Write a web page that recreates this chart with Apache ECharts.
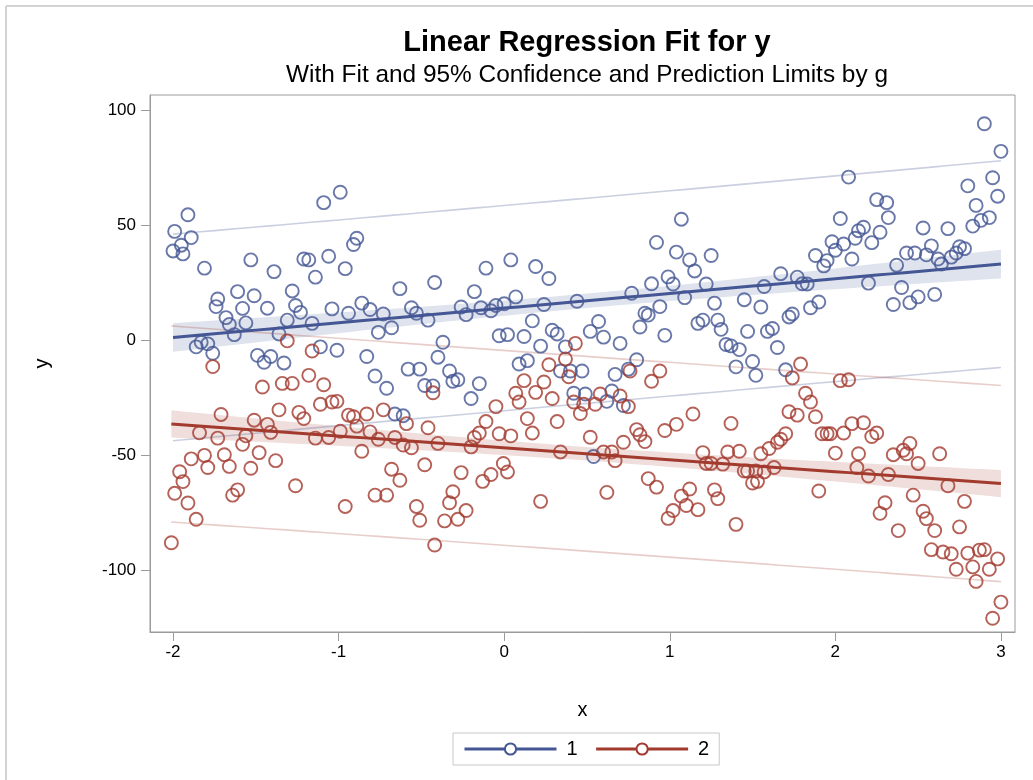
<!DOCTYPE html>
<html>
<head>
<meta charset="utf-8">
<script src="https://cdn.jsdelivr.net/npm/echarts@6/dist/echarts.min.js"></script>
<style>html,body{margin:0;padding:0;background:#fff}#c{width:1033px;height:780px}</style>
</head>
<body>
<div id="c"></div>
<script>
// ---- data ----
const xTicks = [-2, -1, 0, 1, 2, 3];
const yTicks = [-100, -50, 0, 50, 100];
const groupNames = ['1', '2'];
const group1 = [
[-1.91,54.4],[-1.99,47.2],[-1.89,44.5],[-1.95,41.2],[-2.0,38.7],[-1.94,37.4],[-1.81,31.2],[-1.53,34.8],[-1.39,29.7],[-1.61,21],[-1.73,17.8],[-1.74,14.5],[-1.51,19.2],[-1.58,13.7],[-1.43,13.8],[-1.28,21.3],[-1.26,15],[-1.68,9.7],[-1.66,6.7],[-1.56,7.4],[-1.63,2.3],[-1.31,8.6],[-1.36,2.6],[-1.86,-3],[-1.83,-1],[-1.79,-1.7],[-1.76,-5.8],[-1.49,-6.7],[-1.45,-9.7],[-1.41,-7.2],[-1.33,-10],
[-0.99,64.2],[-1.09,59.7],[-0.89,44.2],[-0.91,41.5],[-1.21,35.2],[-1.18,34.8],[-1.06,36.4],[-0.96,31],[-1.14,27.3],[-0.63,22.3],[-0.42,25],[-1.23,12],[-1.04,13.5],[-0.94,11.6],[-0.86,16],[-0.81,13.2],[-0.73,11.3],[-0.56,14],[-0.53,11.6],[-0.46,8.6],[-1.16,7.2],[-0.76,3.3],[-0.68,5.3],[-1.11,-3],[-1.01,-4.5],[-0.83,-7.2],[-0.4,-7.5],[-0.78,-15.7],[-0.71,-21],[-0.58,-12.7],[-0.51,-12.7],[-0.48,-19.8],[-0.43,-20],[-0.66,-32.2],[-0.61,-33],[-0.37,-1],
[0.04,34.8],[-0.11,31.2],[0.19,31.9],[0.27,26.7],[-0.18,21],[-0.26,14.3],[-0.23,11],[-0.14,14],[-0.08,12.7],[-0.05,15],[0.0,15.7],[0.07,18.7],[0.24,15.4],[0.44,16.8],[-0.03,1.8],[0.02,2.3],[0.12,1.5],[0.17,8.3],[0.22,-2.7],[0.29,4.2],[0.32,2.6],[0.37,-3],[-0.33,-13.5],[-0.31,-18],[-0.28,-17.3],[-0.15,-19],[-0.2,-25.5],[0.09,-10.5],[0.14,-9],[0.34,-13.5],[0.4,-13.5],[0.42,-23.2],
[1.07,52.5],[0.92,42.4],[1.04,38.2],[1.12,34.8],[1.15,30],[1.25,36.7],[0.99,27.4],[1.02,24.3],[0.89,24.4],[1.22,24.3],[0.77,20.3],[1.09,18.4],[1.27,16],[0.94,14.5],[0.85,11.6],[0.87,10.8],[0.82,5.6],[0.97,2],[1.17,7.2],[1.2,8.6],[1.29,8.6],[0.57,8],[0.52,3.7],[0.6,1.2],[0.7,-1.5],[0.8,-8.6],[0.47,-13.5],[0.67,-15],[0.75,-12.7],[0.49,-23.5],[0.62,-26.7],[0.65,-22.2],[0.72,-28.5],[0.54,-50.7],[1.31,4.6],
[2.08,70.8],[2.03,52.8],[2.14,47.5],[1.98,42.7],[2.05,41.7],[2.0,39],[1.88,36.7],[1.95,34.5],[1.93,32.2],[2.1,35.2],[2.12,44.2],[1.67,28.8],[1.77,27.3],[1.8,24.4],[1.83,24.3],[1.57,23.2],[1.45,17.5],[1.55,14.3],[1.85,14],[1.9,16.5],[1.72,10],[1.74,11.3],[1.59,3.7],[1.62,5],[1.47,3.7],[1.34,-2],[1.37,-2.6],[1.42,-4.2],[1.65,-3.3],[1.4,-11.7],[1.5,-9.4],[1.52,-15.4],[1.7,-13],
[2.9,94],[3.0,82],[2.95,70.5],[2.8,67],[2.98,62.5],[2.85,58.5],[2.83,49.5],[2.88,52],[2.93,53.2],[2.25,61],[2.31,59.7],[2.32,53.2],[2.27,46.8],[2.17,49],[2.22,42.3],[2.53,48.7],[2.68,48.4],[2.37,32.5],[2.43,37.8],[2.48,37.8],[2.55,37],[2.58,40.9],[2.62,35.2],[2.64,33],[2.7,36],[2.73,37.8],[2.75,40.5],[2.78,39.7],[2.2,24.7],[2.4,22.8],[2.35,15.4],[2.45,16.2],[2.5,18.7],[2.6,19.8]
];
const group2 = [
[-1.31,-0.4],[-1.76,-11.6],[-1.46,-20.5],[-1.34,-18.9],[-1.28,-18.9],[-1.71,-32.4],[-1.36,-30.4],[-1.24,-31.5],[-1.51,-34.9],[-1.43,-36.7],[-1.41,-40.2],[-1.84,-40.4],[-1.73,-42.7],[-1.56,-41.7],[-1.58,-45.4],[-1.48,-49],[-1.81,-50.2],[-1.89,-51.7],[-1.69,-49.9],[-1.79,-55.5],[-1.66,-55],[-1.53,-55.8],[-1.38,-52.5],[-1.96,-57.3],[-1.94,-61.6],[-1.99,-66.7],[-1.91,-70.9],[-1.61,-65.2],[-1.64,-67.5],[-1.86,-78],[-2.01,-88.2],[-1.26,-63.4],
[-1.16,-4.8],[-1.18,-15.4],[-1.09,-19.5],[-0.43,-23],[-1.21,-34.2],[-1.11,-28],[-1.04,-27],[-1.01,-26.7],[-0.94,-32.7],[-0.91,-33.4],[-0.89,-37.5],[-0.83,-32.2],[-0.73,-30.4],[-0.59,-36.4],[-0.46,-38.2],[-1.14,-42.7],[-1.06,-42.4],[-0.99,-39.7],[-0.81,-40],[-0.76,-43.2],[-0.66,-42.4],[-0.61,-45.7],[-0.56,-46.9],[-0.4,-45],[-0.86,-48.4],[-0.96,-72.4],[-0.78,-67.5],[-0.71,-67.5],[-0.68,-56.2],[-0.63,-61],[-0.48,-54.3],[-0.53,-72.4],[-0.51,-78.4],[-0.42,-89.2],[-0.36,-78.7],
[0.43,-1.5],[0.37,-8.3],[0.39,-16],[0.27,-10.8],[0.12,-17.7],[0.24,-18.3],[0.07,-23.2],[0.09,-27],[0.19,-22.8],[0.29,-25.5],[0.42,-27],[0.46,-32],[-0.05,-29],[-0.11,-35.5],[-0.15,-40.5],[-0.18,-42.4],[-0.2,-46.5],[0.14,-34.2],[0.17,-40.5],[0.32,-35.5],[-0.03,-40.8],[0.04,-41.7],[0.34,-48.7],[-0.26,-57.7],[-0.13,-61.5],[-0.08,-58.5],[-0.005,-53.7],[0.02,-57.4],[-0.31,-66],[-0.33,-70.8],[-0.23,-74.2],[-0.28,-78],[0.22,-70.2],
[0.76,-13.5],[0.94,-13.5],[0.89,-18],[0.58,-23.5],[0.48,-28],[0.55,-28],[0.7,-24.4],[0.75,-29],[1.14,-32.2],[0.52,-42.3],[0.8,-39],[0.82,-41.2],[0.85,-44.2],[0.72,-44.5],[0.97,-39.4],[1.04,-36.7],[0.6,-48.7],[0.65,-48.7],[0.67,-52.5],[1.2,-49],[1.22,-53.7],[1.25,-53.7],[0.87,-60.3],[0.92,-64],[0.62,-66.3],[1.07,-67.9],[1.12,-64.8],[1.1,-72],[1.17,-73.8],[1.02,-74.2],[0.99,-77.6],[1.27,-65.2],[1.29,-69],
[1.79,-10.5],[1.74,-16.5],[2.03,-17.7],[2.08,-17.3],[1.82,-23.2],[1.85,-27],[1.72,-31.2],[1.77,-32.7],[1.88,-33.4],[1.37,-36.3],[1.7,-40.8],[1.67,-43.2],[1.65,-44.5],[1.6,-47.2],[1.55,-49.5],[1.92,-40.8],[1.95,-40.8],[1.97,-40.8],[2.05,-40.5],[2.1,-36.4],[2.0,-49.2],[2.14,-49.5],[2.13,-55.5],[1.35,-48.7],[1.42,-48.4],[1.32,-54],[1.45,-57],[1.47,-57],[1.52,-57],[1.57,-57.4],[1.63,-55.5],[1.5,-62.2],[1.53,-61.5],[1.9,-65.7],[1.4,-80.2],
[2.17,-36],[2.22,-42],[2.25,-40.5],[2.45,-45],[2.41,-48],[2.43,-49.5],[2.35,-49.9],[2.63,-49.5],[2.5,-53.7],[2.2,-59.2],[2.32,-58.5],[2.68,-63.4],[2.47,-67.5],[2.78,-70.2],[2.3,-70.8],[2.27,-75.4],[2.53,-74.5],[2.55,-77.7],[2.6,-82.9],[2.38,-82.9],[2.75,-81.3],[2.58,-91.2],[2.65,-92.2],[2.7,-93],[2.8,-92.7],[2.87,-91.4],[2.9,-91.2],[2.98,-95.2],[2.73,-99.7],[2.83,-98.7],[2.93,-99.7],[2.85,-105],[3.0,-114],[2.95,-121]
];

// ---- styling ----
const colors = ['#445694', '#A23A2E'];
const bandFill = ['rgba(68,86,148,0.17)', 'rgba(162,58,46,0.17)'];
const predColor = ['rgba(68,86,148,0.28)', 'rgba(162,58,46,0.25)'];
const FONT = '"Liberation Sans", Arial, sans-serif';

// ---- least-squares fit with 95% confidence and prediction limits ----
function regress(pts) {
  const n = pts.length;
  let sx = 0, sy = 0;
  pts.forEach(p => { sx += p[0]; sy += p[1]; });
  const mx = sx / n, my = sy / n;
  let sxx = 0, sxy = 0;
  pts.forEach(p => { sxx += (p[0] - mx) ** 2; sxy += (p[0] - mx) * (p[1] - my); });
  const b = sxy / sxx, a = my - b * mx;
  let sse = 0;
  pts.forEach(p => { sse += (p[1] - a - b * p[0]) ** 2; });
  const s = Math.sqrt(sse / (n - 2));
  const t = 1.972;
  let x0 = Infinity, x1 = -Infinity;
  pts.forEach(p => { x0 = Math.min(x0, p[0]); x1 = Math.max(x1, p[0]); });
  const fitL = [], clmU = [], clmL = [], plmU = [], plmL = [];
  const steps = 60;
  for (let i = 0; i <= steps; i++) {
    const x = x0 + (x1 - x0) * i / steps;
    const yh = a + b * x;
    const h = 1 / n + (x - mx) ** 2 / sxx;
    const c = t * s * Math.sqrt(h), pr = t * s * Math.sqrt(1 + h);
    fitL.push([x, yh]);
    clmU.push([x, yh + c]); clmL.push([x, yh - c]);
    plmU.push([x, yh + pr]); plmL.push([x, yh - pr]);
  }
  return { fitL, clmU, clmL, plmU, plmL };
}

const groups = [group1, group2];
const fits = groups.map(regress);

const series = [];
// fit lines first (legend icon source)
fits.forEach((f, g) => {
  series.push({
    name: groupNames[g], type: 'line', data: f.fitL, z: 5,
    symbol: 'emptyCircle', symbolSize: 12, showSymbol: false,
    lineStyle: { color: colors[g], width: 3 },
    itemStyle: { color: colors[g], borderWidth: 1.8 },
    silent: true
  });
});
fits.forEach((f, g) => {
  series.push({
    name: groupNames[g], type: 'custom', z: 1, silent: true,
    data: [0],
    renderItem: function (params, api) {
      const pts = f.clmU.map(p => api.coord(p)).concat(f.clmL.slice().reverse().map(p => api.coord(p)));
      return { type: 'polygon', shape: { points: pts }, style: { fill: bandFill[g] } };
    }
  });
  ['plmU', 'plmL'].forEach(k => {
    series.push({
      name: groupNames[g], type: 'line', data: f[k], z: 2, showSymbol: false, silent: true,
      lineStyle: { color: predColor[g], width: 1.6 }
    });
  });
});
groups.forEach((d, g) => {
  series.push({
    name: groupNames[g], type: 'scatter', data: d, z: 3, symbol: 'circle', symbolSize: 13,
    itemStyle: { color: 'rgba(0,0,0,0)', borderColor: colors[g], borderWidth: 1.9 }
  });
});

const axisGray = '#9b9b9b';
const chart = echarts.init(document.getElementById('c'), null, { renderer: 'canvas' });
chart.setOption({
  animation: false,
  backgroundColor: '#fff',
  grid: { left: 150, top: 95, right: 18, bottom: 148, show: true, borderColor: axisGray, borderWidth: 1 },
  xAxis: {
    type: 'value', min: -2.139, max: 3.085,
    name: 'x', nameLocation: 'middle', nameGap: 68,
    nameTextStyle: { fontFamily: FONT, fontSize: 20, color: '#000' },
    axisLine: { show: true, onZero: false, lineStyle: { color: axisGray } },
    axisTick: { show: true, inside: false, length: 9, lineStyle: { color: axisGray }, customValues: xTicks },
    axisLabel: { fontFamily: FONT, fontSize: 17, color: '#000', margin: 12, customValues: xTicks },
    splitLine: { show: false }
  },
  yAxis: {
    type: 'value', min: -127, max: 106.5,
    name: 'y', nameLocation: 'middle', nameGap: 98,
    nameTextStyle: { fontFamily: FONT, fontSize: 20, color: '#000' },
    axisLine: { show: true, onZero: false, lineStyle: { color: axisGray } },
    axisTick: { show: true, inside: false, length: 9, lineStyle: { color: axisGray }, customValues: yTicks },
    axisLabel: { fontFamily: FONT, fontSize: 17, color: '#000', margin: 14, customValues: yTicks },
    splitLine: { show: false }
  },
  legend: {
    data: groupNames, left: 453, top: 733,
    itemWidth: 92, itemHeight: 14, itemGap: 17,
    lineStyle: { width: 3 },
    borderColor: '#c8c8c8', borderWidth: 1, padding: [6, 10, 6, 10],
    textStyle: { fontFamily: FONT, fontSize: 20, color: '#000', padding: [0, 0, 0, 5] },
    selectedMode: false
  },
  graphic: [
    { type: 'text', x: 587, y: 43, style: { text: 'Linear Regression Fit for y', font: 'bold 29px "Liberation Sans", Arial, sans-serif', fill: '#000', textAlign: 'center', textVerticalAlign: 'middle' } },
    { type: 'text', x: 587, y: 75, style: { text: 'With Fit and 95% Confidence and Prediction Limits by g', font: '24.4px "Liberation Sans", Arial, sans-serif', fill: '#000', textAlign: 'center', textVerticalAlign: 'middle' } },
    { type: 'line', shape: { x1: 6, y1: 6, x2: 1033, y2: 6 }, style: { stroke: '#d3d3d3', lineWidth: 2 } },
    { type: 'line', shape: { x1: 6, y1: 6, x2: 6, y2: 780 }, style: { stroke: '#d3d3d3', lineWidth: 2 } }
  ],
  series: series
});
</script>
</body>
</html>
